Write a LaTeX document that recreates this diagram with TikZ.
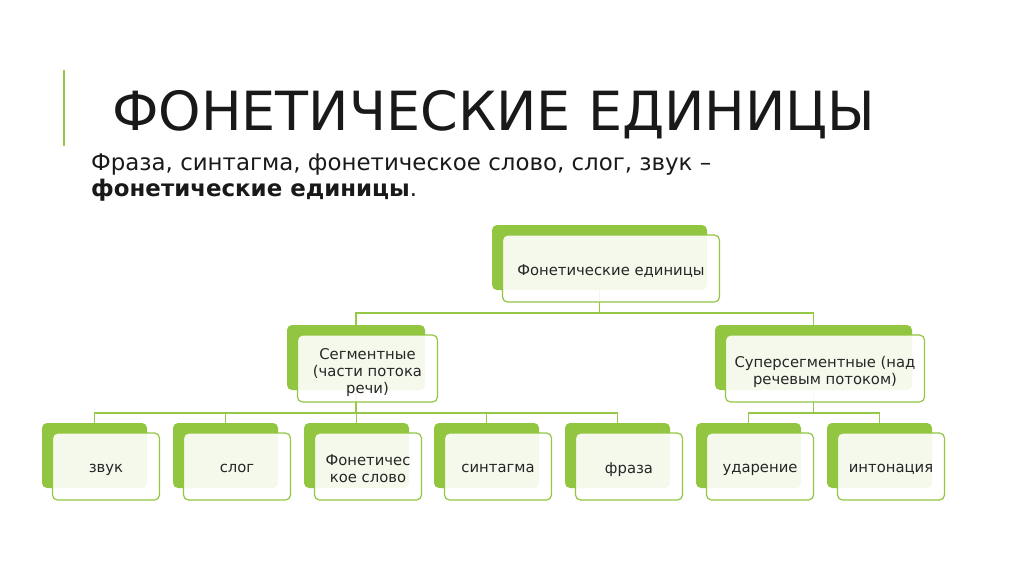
\documentclass[tikz,border=0pt]{standalone}
\usepackage{fontspec}
\setmainfont{DejaVu Sans}
\usetikzlibrary{backgrounds}
\definecolor{gr}{RGB}{146,198,64}
\definecolor{grline}{RGB}{150,200,72}
\newcommand\unitbox[6]{%
  \node[backbox, minimum width={#4-#2}, minimum height={#5-#3}] (#1) at ({(#2+#4)/2},{(#3+#5)/2}) {};
  \node[frontbox, minimum width={#4-#2+2}, minimum height={#5-#3+2}] (#1f) at ({(#2+#4)/2+11.5},{(#3+#5)/2+11}) {};
  \node[labeltext] (#1t) at ([yshift=-2pt]#1f.center) {#6};
}
\begin{document}
\begin{tikzpicture}[x=1pt,y=-1pt,
  backbox/.style={fill=gr, draw=none, rounded corners=5pt, inner sep=0pt},
  frontbox/.style={fill=white, fill opacity=0.9, draw=gr, draw opacity=1, line width=1.2pt, rounded corners=5pt, inner sep=0pt},
  labeltext/.style={inner sep=0pt, text depth=0pt, align=center, font=\fontsize{14.8}{17}\selectfont, text=black!85},
  conn/.style={draw=grline, line width=1.6pt}]
\useasboundingbox (0,0) rectangle (1024,576);
\draw[grline, line width=2pt] (64,70) -- (64,146);
\node[anchor=base west, inner sep=0pt, font=\fontsize{54}{60}\selectfont, text=black!90] (title) at (112,130) {ФОНЕТИЧЕСКИЕ ЕДИНИЦЫ};
\node[anchor=base west, inner sep=0pt, font=\fontsize{22.9}{26}\selectfont, text=black!90] (l1) at (91,170) {Фраза, синтагма, фонетическое слово, слог, звук –};
\node[anchor=base west, inner sep=0pt, font=\fontsize{22.9}{26}\selectfont, text=black!90] (l2) at (91,196) {\textbf{фонетические единицы}.};
\unitbox{top}{492}{225}{707}{290}{Фонетические единицы}
\unitbox{seg}{287}{325}{425}{390}{Сегментные\\(части потока\\речи)}
\unitbox{sup}{715}{325}{912}{390}{Суперсегментные (над\\речевым потоком)}
\unitbox{b1}{42}{423}{147}{488}{звук}
\unitbox{b2}{173}{423}{278}{488}{слог}
\unitbox{b3}{304}{423}{409}{488}{Фонетичес\\кое слово}
\unitbox{b4}{434}{423}{539}{488}{синтагма}
\unitbox{b5}{565}{423}{670}{488}{фраза}
\unitbox{b6}{696}{423}{801}{488}{ударение}
\unitbox{b7}{827}{423}{932}{488}{интонация}
\begin{scope}[on background layer]
\draw[conn] (top.south) -- ++(0,23) -| (seg.north);
\draw[conn] (top.south) -- ++(0,23) -| (sup.north);
\foreach \n in {b1,b2,b3,b4,b5}{\draw[conn] (seg.south) -- ++(0,23) -| (\n.north);}
\foreach \n in {b6,b7}{\draw[conn] (sup.south) -- ++(0,23) -| (\n.north);}
\end{scope}
\end{tikzpicture}
\end{document}
